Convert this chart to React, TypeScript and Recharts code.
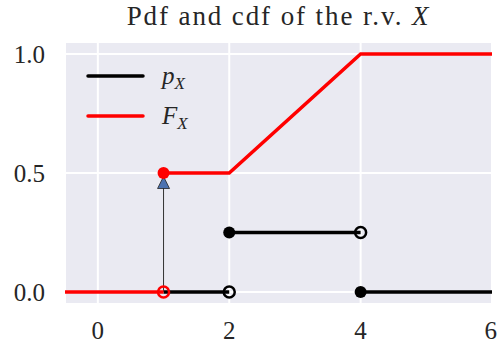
import React from 'react';
import { ComposedChart, Line, Scatter, XAxis, YAxis, CartesianGrid } from 'recharts';

// pdf p_X: piecewise segments
const pdfSeg1 = [{ x: 1, y: 0 }, { x: 2, y: 0 }];
const pdfSeg2 = [{ x: 2, y: 0.25 }, { x: 4, y: 0.25 }];
const pdfSeg3 = [{ x: 4, y: 0 }, { x: 6, y: 0 }];
const pdfClosed = [{ x: 2, y: 0.25 }, { x: 4, y: 0 }];
const pdfOpen = [{ x: 2, y: 0 }, { x: 4, y: 0.25 }];

// point mass at x = 1 (arrow)
const massStem = [{ x: 1, y: 0 }, { x: 1, y: 0.46 }];
const massHead = [{ x: 1, y: 0.46 }];

// cdf F_X
const cdfSeg1 = [{ x: -0.5, y: 0 }, { x: 1, y: 0 }];
const cdfSeg2 = [{ x: 1, y: 0.5 }, { x: 2, y: 0.5 }, { x: 4, y: 1 }, { x: 6, y: 1 }];
const cdfClosed = [{ x: 1, y: 0.5 }];
const cdfOpen = [{ x: 1, y: 0 }];

const xTicks = [0, 2, 4, 6];
const yTicks = [0, 0.5, 1];

const FONT = '"Liberation Serif", "DejaVu Serif", serif';
const BG = '#EAEAF2';

const dot = (color: string, open: boolean) => (props: any) => (
  <circle
    cx={props.cx}
    cy={props.cy}
    r={open ? 5.5 : 6}
    fill={open ? 'none' : color}
    stroke={color}
    strokeWidth={open ? 2.5 : 0}
  />
);

const triangle = (props: any) => {
  const { cx, cy } = props;
  return (
    <path
      d={`M${cx},${cy - 6} L${cx + 6},${cy + 6} L${cx - 6},${cy + 6} Z`}
      fill="#4C72B0"
      stroke="#222"
      strokeWidth={0.8}
    />
  );
};

export default function App() {
  const lineProps = { dataKey: 'y', dot: false, isAnimationActive: false, type: 'linear' as const, strokeWidth: 3.5 };
  return (
    <div style={{ position: 'absolute', left: 0, top: 0, width: 497, height: 349, background: '#fff', fontFamily: FONT }}>
      <div style={{ position: 'absolute', left: 65, width: 427, top: 1, textAlign: 'center', fontSize: 27, letterSpacing: 1.9, color: '#262626' }}>
        Pdf and cdf of the r.v. <i>X</i>
      </div>
      <ComposedChart width={497} height={349} margin={{ top: 42, right: 5, bottom: 0, left: 0 }}>
        <CartesianGrid fill={BG} fillOpacity={1} stroke="#fff" strokeWidth={2} />
        <XAxis
          type="number"
          dataKey="x"
          domain={[-0.5, 6]}
          ticks={xTicks}
          allowDataOverflow
          height={45}
          axisLine={false}
          tickLine={false}
          tickSize={0}
          tickMargin={17}
          tick={{ fill: '#262626', fontSize: 25, fontFamily: FONT }}
        />
        <YAxis
          type="number"
          dataKey="y"
          domain={[-0.05, 1.05]}
          ticks={yTicks}
          allowDataOverflow
          width={65}
          axisLine={false}
          tickLine={false}
          tickSize={0}
          tickMargin={20}
          tickFormatter={(v: number) => v.toFixed(1)}
          tick={{ fill: '#262626', fontSize: 25, fontFamily: FONT }}
        />
        <Line data={pdfSeg1} stroke="#000" {...lineProps} />
        <Line data={pdfSeg2} stroke="#000" {...lineProps} />
        <Line data={pdfSeg3} stroke="#000" {...lineProps} />
        <Scatter data={pdfClosed} dataKey="y" shape={dot('#000', false)} isAnimationActive={false} />
        <Scatter data={pdfOpen} dataKey="y" shape={dot('#000', true)} isAnimationActive={false} />
        <Line data={massStem} dataKey="y" dot={false} stroke="#333" strokeWidth={1} isAnimationActive={false} />
        <Scatter data={massHead} dataKey="y" shape={triangle} isAnimationActive={false} />
        <Line data={cdfSeg1} stroke="#FF0000" {...lineProps} />
        <Line data={cdfSeg2} stroke="#FF0000" {...lineProps} />
        <Scatter data={cdfClosed} dataKey="y" shape={dot('#FF0000', false)} isAnimationActive={false} />
        <Scatter data={cdfOpen} dataKey="y" shape={dot('#FF0000', true)} isAnimationActive={false} />
      </ComposedChart>
      <svg style={{ position: 'absolute', left: 0, top: 0 }} width={497} height={349} pointerEvents="none">
        <line x1={88} x2={143} y1={76} y2={76} stroke="#000" strokeWidth={3.5} strokeLinecap="round" />
        <line x1={88} x2={143} y1={116} y2={116} stroke="#FF0000" strokeWidth={3.5} strokeLinecap="round" />
        <text x={162} y={84} fontSize={25} fontFamily={FONT} fill="#262626" fontStyle="italic">
          p<tspan fontSize={17} dy={5}>X</tspan>
        </text>
        <text x={162} y={124} fontSize={25} fontFamily={FONT} fill="#262626" fontStyle="italic">
          F<tspan fontSize={17} dy={5}>X</tspan>
        </text>
      </svg>
    </div>
  );
}
